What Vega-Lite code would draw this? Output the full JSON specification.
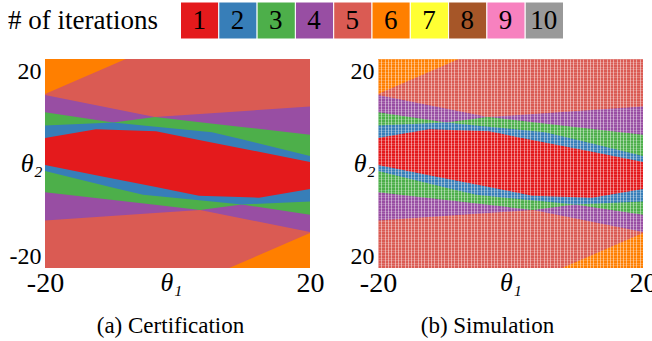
{
  "$schema": "https://vega.github.io/schema/vega-lite/v6.json",
  "padding": {"left": 8, "top": 1, "right": 0, "bottom": 0},
  "config": {"view": {"stroke": null}, "font": "Liberation Serif"},
  "datasets": {
    "legend": [
      {"iter": 1}, {"iter": 2}, {"iter": 3}, {"iter": 4}, {"iter": 5},
      {"iter": 6}, {"iter": 7}, {"iter": 8}, {"iter": 9}, {"iter": 10}
    ],
    "regions": [
      {"region": "bg", "count": 5, "t1": -20, "lo": -20, "hi": 20},
      {"region": "bg", "count": 5, "t1": 20, "lo": -20, "hi": 20},
      {"region": "o1", "count": 6, "t1": -20, "lo": 13.3, "hi": 20},
      {"region": "o1", "count": 6, "t1": -7.8, "lo": 20, "hi": 20},
      {"region": "o2", "count": 6, "t1": 7.8, "lo": -20, "hi": -20},
      {"region": "o2", "count": 6, "t1": 20, "lo": -20, "hi": -13.3},
      {"region": "p", "count": 4, "t1": -20, "lo": -10.9, "hi": 13.1},
      {"region": "p", "count": 4, "t1": -3.4, "lo": -9.48, "hi": 8.9},
      {"region": "p", "count": 4, "t1": 3.4, "lo": -8.9, "hi": 9.48},
      {"region": "p", "count": 4, "t1": 20, "lo": -13.1, "hi": 10.9},
      {"region": "g", "count": 3, "t1": -20, "lo": -5.5, "hi": 9.8},
      {"region": "g", "count": 3, "t1": -9.7, "lo": -7.0, "hi": 7.85},
      {"region": "g", "count": 3, "t1": -3.4, "lo": -7.91, "hi": 8.9},
      {"region": "g", "count": 3, "t1": 3.4, "lo": -8.9, "hi": 7.91},
      {"region": "g", "count": 3, "t1": 9.7, "lo": -7.85, "hi": 7.0},
      {"region": "g", "count": 3, "t1": 20, "lo": -9.8, "hi": 5.5},
      {"region": "b", "count": 2, "t1": -20, "lo": -1.45, "hi": 7.25},
      {"region": "b", "count": 2, "t1": -9.7, "lo": -4.62, "hi": 7.85},
      {"region": "b", "count": 2, "t1": -5.2, "lo": -6.0, "hi": 7.29},
      {"region": "b", "count": 2, "t1": 5.2, "lo": -7.29, "hi": 6.0},
      {"region": "b", "count": 2, "t1": 9.7, "lo": -7.85, "hi": 4.62},
      {"region": "b", "count": 2, "t1": 20, "lo": -7.25, "hi": 1.45},
      {"region": "r", "count": 1, "t1": -20, "lo": -0.3, "hi": 4.9},
      {"region": "r", "count": 1, "t1": -12.3, "lo": -2.24, "hi": 6.55},
      {"region": "r", "count": 1, "t1": -3.25, "lo": -4.51, "hi": 6.15},
      {"region": "r", "count": 1, "t1": 3.25, "lo": -6.15, "hi": 4.51},
      {"region": "r", "count": 1, "t1": 12.3, "lo": -6.55, "hi": 2.24},
      {"region": "r", "count": 1, "t1": 20, "lo": -4.9, "hi": 0.3}
    ]
  },
  "spacing": 19,
  "vconcat": [
    {
      "width": 518,
      "height": 37,
      "layer": [
        {
          "data": {"name": "legend"},
          "mark": {"type": "rect", "stroke": "white", "strokeWidth": 1},
          "encoding": {
            "x": {"field": "iter", "type": "quantitative", "bin": {"step": 1, "extent": [0.5, 10.5], "nice": false}, "scale": {"domain": [-3.025, 10.5], "nice": false, "zero": false}, "axis": null},
            "color": {"field": "iter", "type": "ordinal", "scale": {"domain": [1,2,3,4,5,6,7,8,9,10], "range": ["#e41a1c","#377eb8","#4daf4a","#984ea3","#da5b53","#ff7f00","#ffff33","#a65628","#f781bf","#999999"]}, "legend": null}
          }
        },
        {
          "data": {"name": "legend"},
          "mark": {"type": "text", "fontSize": 27, "font": "Liberation Serif", "color": "black", "baseline": "middle", "align": "center"},
          "encoding": {
            "x": {"field": "iter", "type": "quantitative"},
            "text": {"field": "iter"}
          }
        },
        {
          "data": {"values": [{"lab": "# of iterations"}]},
          "mark": {"type": "text", "fontSize": 27, "font": "Liberation Serif", "color": "black", "baseline": "middle", "align": "left"},
          "encoding": {
            "x": {"datum": -3.99},
            "text": {"field": "lab"}
          }
        }
      ]
    },
    {
      "spacing": 26,
      "hconcat": [
        {
          "width": 265,
          "height": 209,
          "data": {"name": "regions"},
          "title": {"text": "(a) Certification", "orient": "bottom", "fontSize": 23, "font": "Liberation Serif", "fontWeight": "normal", "color": "black", "anchor": "middle", "frame": "group", "dx": -7, "offset": 18},
          "encoding": {
            "x": {"field": "t1", "type": "quantitative", "scale": {"domain": [-20, 20], "nice": false, "zero": false},
                  "axis": {"values": [-20, 20], "labelExpr": "datum.value < 0 ? '-20' : '20'", "labelFlush": false, "title": "θ₁", "domain": false, "ticks": false, "grid": false, "labelFontSize": 28, "labelFont": "Liberation Serif", "labelColor": "black", "labelPadding": 1, "titleFontSize": 26, "titleFont": "Liberation Serif", "titleFontStyle": "italic", "titleFontWeight": "normal", "titleColor": "black", "titleX": 126, "titleY": 1, "titleBaseline": "top"}},
            "y": {"field": "lo", "type": "quantitative", "scale": {"domain": [-20, 20], "nice": false, "zero": false},
                  "axis": {"values": [-20, 20], "labelExpr": "datum.value < 0 ? '-20' : '20'", "labelFlush": true, "title": "θ₂", "titleAngle": 0, "titleX": -3, "titleY": 104, "titleAlign": "right", "titleBaseline": "middle", "domain": false, "ticks": false, "grid": false, "labelFontSize": 24, "labelFont": "Liberation Serif", "labelColor": "black", "labelPadding": 4, "titleFontSize": 26, "titleFont": "Liberation Serif", "titleFontStyle": "italic", "titleFontWeight": "normal", "titleColor": "black"}},
            "y2": {"field": "hi"},
            "detail": {"field": "region"},
            "color": {"field": "count", "type": "ordinal", "scale": {"domain": [1,2,3,4,5,6,7,8,9,10], "range": ["#e41a1c","#377eb8","#4daf4a","#984ea3","#da5b53","#ff7f00","#ffff33","#a65628","#f781bf","#999999"]}, "legend": null}
          },
          "layer": [
            {"transform": [{"filter": "datum.count == 5"}], "mark": {"type": "area", "interpolate": "linear"}},
            {"transform": [{"filter": "datum.count == 6"}], "mark": {"type": "area", "interpolate": "linear"}},
            {"transform": [{"filter": "datum.count == 4"}], "mark": {"type": "area", "interpolate": "linear"}},
            {"transform": [{"filter": "datum.count == 3"}], "mark": {"type": "area", "interpolate": "linear"}},
            {"transform": [{"filter": "datum.count == 2"}], "mark": {"type": "area", "interpolate": "linear"}},
            {"transform": [{"filter": "datum.count == 1"}], "mark": {"type": "area", "interpolate": "linear"}}
          ]
        },
        {
          "width": 265,
          "height": 209,
          "data": {"name": "regions"},
          "title": {"text": "(b) Simulation", "orient": "bottom", "fontSize": 23, "font": "Liberation Serif", "fontWeight": "normal", "color": "black", "anchor": "middle", "frame": "group", "dx": -23, "offset": 18},
          "resolve": {"axis": {"x": "independent", "y": "independent"}},
          "layer": [
            {
              "encoding": {
                "x": {"field": "t1", "type": "quantitative", "scale": {"domain": [-20, 20], "nice": false, "zero": false},
                      "axis": {"values": [-20, 20], "labelExpr": "datum.value < 0 ? '-20' : '20'", "labelFlush": false, "title": "θ₁", "orient": "bottom", "domain": false, "ticks": false, "grid": false, "labelFontSize": 28, "labelFont": "Liberation Serif", "labelColor": "black", "labelPadding": 1, "titleFontSize": 26, "titleFont": "Liberation Serif", "titleFontStyle": "italic", "titleFontWeight": "normal", "titleColor": "black", "titleY": 1, "titleBaseline": "top"}},
                "y": {"field": "lo", "type": "quantitative", "scale": {"domain": [-20, 20], "nice": false, "zero": false},
                      "axis": {"values": [-20, 20], "labelExpr": "'20'", "labelFlush": true, "orient": "left", "title": "θ₂", "titleAngle": 0, "titleX": -3, "titleY": 104, "titleAlign": "right", "titleBaseline": "middle", "domain": false, "ticks": false, "grid": false, "labelFontSize": 24, "labelFont": "Liberation Serif", "labelColor": "black", "labelPadding": 4, "titleFontSize": 26, "titleFont": "Liberation Serif", "titleFontStyle": "italic", "titleFontWeight": "normal", "titleColor": "black"}},
                "y2": {"field": "hi"},
                "detail": {"field": "region"},
                "color": {"field": "count", "type": "ordinal", "scale": {"domain": [1,2,3,4,5,6,7,8,9,10], "range": ["#e94849","#5f98c6","#71bf6e","#ad71b5","#e17c75","#ff9933","#ffff66","#b87853","#f99acc","#adadad"]}, "legend": null}
              },
              "layer": [
                {"transform": [{"filter": "datum.count == 5"}], "mark": {"type": "area", "interpolate": "linear"}},
                {"transform": [{"filter": "datum.count == 6"}], "mark": {"type": "area", "interpolate": "linear"}},
                {"transform": [{"filter": "datum.count == 4"}], "mark": {"type": "area", "interpolate": "linear"}},
                {"transform": [{"filter": "datum.count == 3"}], "mark": {"type": "area", "interpolate": "linear"}},
                {"transform": [{"filter": "datum.count == 2"}], "mark": {"type": "area", "interpolate": "linear"}},
                {"transform": [{"filter": "datum.count == 1"}], "mark": {"type": "area", "interpolate": "linear"}}
              ]
            },
            {
              "transform": [{"filter": "datum.count == 1"}],
              "mark": {"type": "area", "opacity": 0},
              "encoding": {
                "x": {"field": "t1", "type": "quantitative", "axis": {"orient": "top", "tickCount": 100, "labels": false, "title": null, "domain": false, "ticks": false, "grid": true, "gridColor": "white", "gridOpacity": 0.45, "gridWidth": 1, "zindex": 1}},
                "y": {"field": "lo", "type": "quantitative", "axis": {"orient": "right", "tickCount": 80, "labels": false, "title": null, "domain": false, "ticks": false, "grid": true, "gridColor": "white", "gridOpacity": 0.2, "gridWidth": 1, "zindex": 1}},
                "y2": {"field": "hi"}
              }
            }
          ]
        }
      ]
    }
  ]
}
